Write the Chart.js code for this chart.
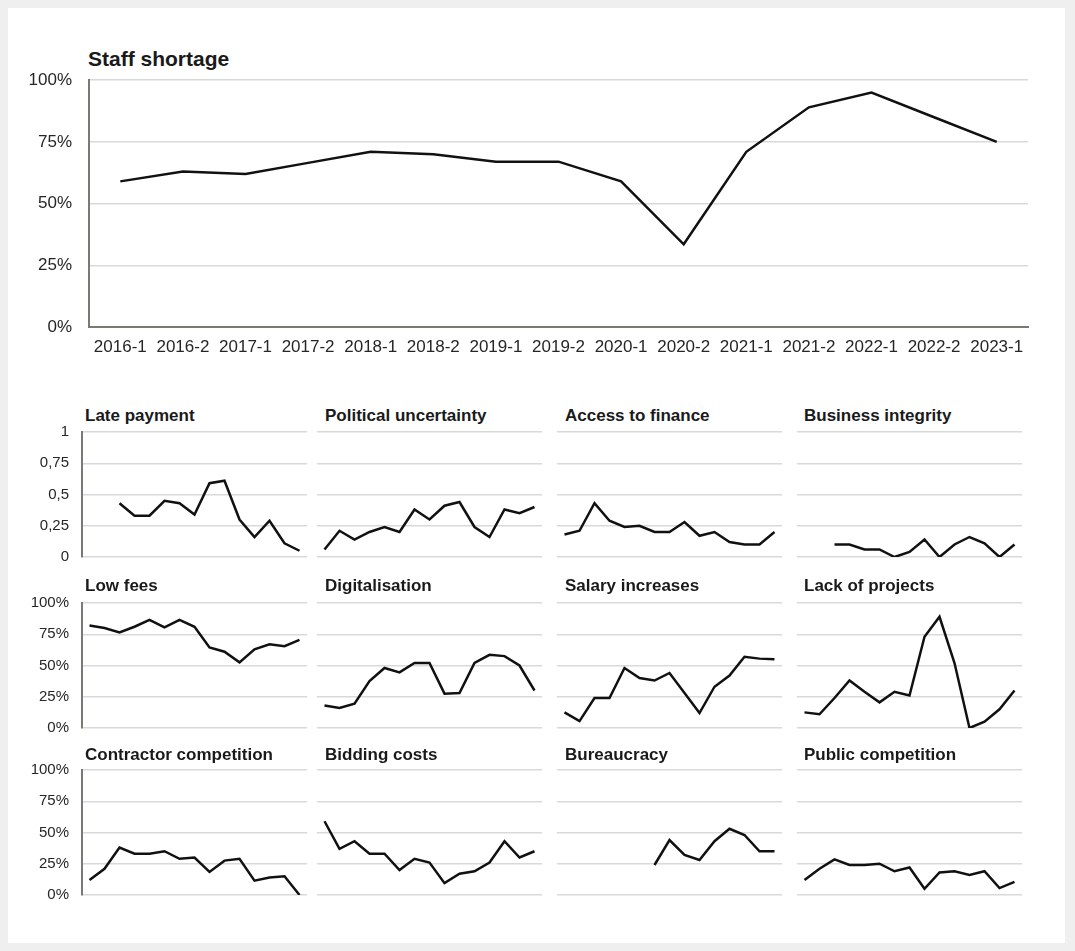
<!DOCTYPE html>
<html>
<head>
<meta charset="utf-8">
<script src="https://cdn.jsdelivr.net/npm/chart.js@4.4.1/dist/chart.umd.min.js"></script>
<style>
  html, body { margin: 0; padding: 0; }
  body { width: 1075px; height: 951px; background: #efefef; position: relative; overflow: hidden; font-family: "Liberation Sans", Arial, sans-serif; }
  #page { position: absolute; left: 8px; top: 8px; width: 1057px; height: 935px; background: #fff; }
  canvas, .title { position: absolute; }
  .title { font-weight: bold; color: #1a1a1a; white-space: nowrap; }
</style>
</head>
<body>
<div id="page"></div>
<script>
const quarters = ["2016-1", "2016-2", "2017-1", "2017-2", "2018-1", "2018-2", "2019-1", "2019-2",
  "2020-1", "2020-2", "2021-1", "2021-2", "2022-1", "2022-2", "2023-1"]

const staffShortage = [59, 63, 62, 66.5, 71, 70, 67, 67, 59, 33.5, 71, 89, 95, 85, 75]

// row 1 is on a 0..1 scale, rows 2 and 3 in percent
const latePayment = [null, null, 0.43, 0.33, 0.33, 0.45, 0.43, 0.34, 0.59, 0.61, 0.30, 0.16, 0.29, 0.11, 0.05]
const politicalUncertainty = [0.06, 0.21, 0.14, 0.20, 0.24, 0.20, 0.38, 0.30, 0.41, 0.44, 0.24, 0.16, 0.38, 0.35, 0.40]
const accessToFinance = [0.18, 0.21, 0.43, 0.29, 0.24, 0.25, 0.20, 0.20, 0.28, 0.17, 0.20, 0.12, 0.10, 0.10, 0.20]
const businessIntegrity = [null, null, 0.10, 0.10, 0.06, 0.06, 0.00, 0.04, 0.14, 0.00, 0.10, 0.16, 0.11, 0.00, 0.10]

const lowFees = [82, 80, 76.5, 81, 86.5, 80.5, 86.5, 81, 64.5, 61, 52.5, 63, 67, 65.5, 70.5]
const digitalisation = [18, 16, 19.5, 37.5, 48, 44.5, 52, 52, 27.5, 28, 52, 58.5, 57.5, 50, 30]
const salaryIncreases = [12.5, 5.5, 24, 24, 48, 40, 38, 44, 28, 12, 33, 42, 57, 55.5, 55]
const lackOfProjects = [12.5, 11, 24, 38, 29, 20.5, 29, 26, 73, 89, 52, 0, 5, 15, 30]

const contractorCompetition = [12, 21, 38, 33, 33, 35, 29, 30, 18.5, 27.5, 29, 11.5, 14, 15, 0]
const biddingCosts = [59, 37, 43, 33, 33, 20, 29, 26, 9.5, 17, 19, 26, 43, 30, 35]
const bureaucracy = [null, null, null, null, null, null, 24, 44, 32, 28, 43, 53, 48, 35, 35]
const publicCompetition = [12, 21, 28.5, 24, 24, 25, 19, 22, 5, 18, 19, 16, 19, 5.5, 10.5]

const fractionTicks = [0, 0.25, 0.5, 0.75, 1]
const percentTicks = [0, 25, 50, 75, 100]

const fontFamily = "'Liberation Sans', Arial, sans-serif"
const gridColor = "#d9d9d9"
const axisColor = "#7a7a72"
const lineColor = "#111111"
const labelColor = "#262626"

function addCanvas(left, top, width, height) {
  const canvas = document.createElement("canvas")
  canvas.width = width
  canvas.height = height
  canvas.style.left = left + "px"
  canvas.style.top = top + "px"
  document.body.appendChild(canvas)
  return canvas
}

function addTitle(text, left, top, size) {
  const div = document.createElement("div")
  div.className = "title"
  div.textContent = text
  div.style.left = left + "px"
  div.style.top = top + "px"
  div.style.fontSize = size + "px"
  div.style.lineHeight = (size + 3) + "px"
  document.body.appendChild(div)
}

function lineDataset(values) {
  return {
    data: values,
    borderColor: lineColor,
    borderWidth: 2.5,
    pointRadius: 0,
    tension: 0,
    fill: false
  }
}

const baseOptions = {
  responsive: false,
  animation: false,
  events: [],
  plugins: { legend: { display: false }, tooltip: { enabled: false } }
}

// big chart on top; the y axis adds label half-height + tick padding above the plot (~27px)
addTitle("Staff shortage", 88, 47, 21)
new Chart(addCanvas(0, 53, 1075, 317), {
  type: "line",
  data: { labels: quarters, datasets: [lineDataset(staffShortage)] },
  options: {
    ...baseOptions,
    layout: { padding: { left: 0, right: 47, top: 27, bottom: 3 } },
    scales: {
      x: {
        offset: true,
        grid: { display: false, drawTicks: false },
        border: { display: true, color: axisColor, width: 2 },
        ticks: { color: labelColor, font: { family: fontFamily, size: 17 }, padding: 10, maxRotation: 0, autoSkip: false },
        afterFit: s => { s.height = 40 }
      },
      y: {
        min: 0, max: 100,
        afterBuildTicks: s => { s.ticks = percentTicks.map(v => ({ value: v })) },
        grid: { color: gridColor, lineWidth: 1.5, drawTicks: false },
        border: { display: true, color: axisColor, width: 2 },
        ticks: { color: labelColor, font: { family: fontFamily, size: 17 }, padding: 17, callback: v => v + "%" },
        afterFit: s => { s.width = 89 }
      }
    }
  }
})

// small multiples
const panelLefts = [82, 317, 557, 797]
const panelTops = [432, 603, 770]
const panelWidth = 225
const panelHeight = 125
const panelPad = 22
const titleLefts = [85, 325, 565, 804]
const titleTops = [406, 576, 745]

const panels = [
  ["Late payment", latePayment], ["Political uncertainty", politicalUncertainty],
  ["Access to finance", accessToFinance], ["Business integrity", businessIntegrity],
  ["Low fees", lowFees], ["Digitalisation", digitalisation],
  ["Salary increases", salaryIncreases], ["Lack of projects", lackOfProjects],
  ["Contractor competition", contractorCompetition], ["Bidding costs", biddingCosts],
  ["Bureaucracy", bureaucracy], ["Public competition", publicCompetition]
]

function createPanel(title, values, row, col) {
  const showAxis = col === 0
  const fraction = row === 0
  const left = showAxis ? 0 : panelLefts[col] - 5
  const axisWidth = showAxis ? panelLefts[col] : 0
  const width = (showAxis ? axisWidth : 5) + panelWidth + 5
  const top = panelTops[row] - panelPad

  addTitle(title, titleLefts[col], titleTops[row], 17)

  new Chart(addCanvas(left, top, width, panelHeight + 2 * panelPad), {
    type: "line",
    data: { labels: quarters, datasets: [lineDataset(values)] },
    options: {
      ...baseOptions,
      layout: { padding: { left: showAxis ? 0 : 5, right: 5, top: panelPad, bottom: panelPad } },
      scales: {
        x: { display: false, offset: true },
        y: {
          min: 0, max: fraction ? 1 : 100,
          afterBuildTicks: s => { s.ticks = (fraction ? fractionTicks : percentTicks).map(v => ({ value: v })) },
          grid: { color: gridColor, lineWidth: 1.5, drawTicks: false },
          border: { display: showAxis, color: axisColor, width: 2 },
          ticks: {
            display: showAxis,
            color: labelColor,
            font: { family: fontFamily, size: 15 },
            padding: 13,
            callback: v => fraction ? String(v).replace(".", ",") : v + "%"
          },
          afterFit: s => { s.width = axisWidth }
        }
      }
    }
  })
}

panels.forEach(([title, values], i) => createPanel(title, values, Math.floor(i / 4), i % 4))
</script>
</body>
</html>
